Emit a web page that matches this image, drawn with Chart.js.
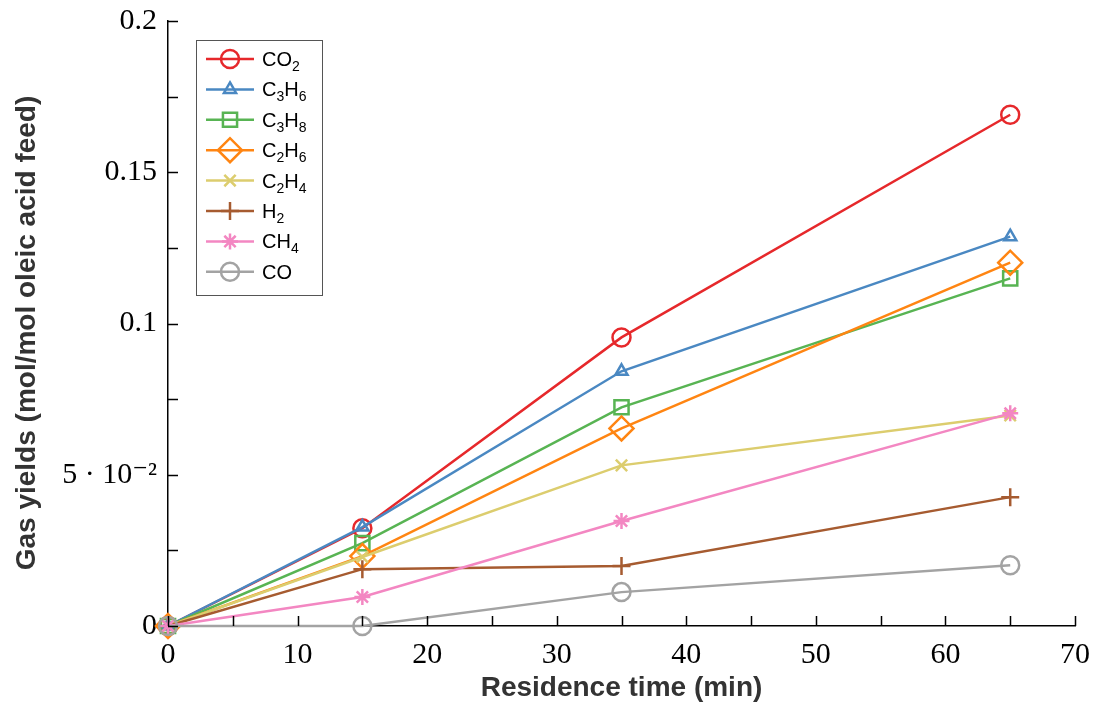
<!DOCTYPE html>
<html lang="en">
<head>
  <meta charset="UTF-8" />
  <title>Gas yields vs residence time</title>
  <script src="https://cdn.jsdelivr.net/npm/chart.js@4"></script>
  <style>
    body {
      margin: 0;
      padding: 0;
      background: #fff;
    }
    #wrap {
      width: 1100px;
      height: 705px;
    }
  </style>
</head>
<body>
  <div id="wrap"><canvas id="gasChart"></canvas></div>

  <script>
    const times = [0, 15, 35, 65];

    const co2  = [0, 0.0323, 0.0954, 0.1690];
    const c3h6 = [0, 0.0327, 0.0842, 0.1287];
    const c3h8 = [0, 0.0274, 0.0723, 0.1149];
    const c2h6 = [0, 0.0231, 0.0653, 0.1201];
    const c2h4 = [0, 0.0228, 0.0531, 0.0696];
    const h2   = [0, 0.0188, 0.0198, 0.0426];
    const ch4  = [0, 0.0096, 0.0347, 0.0703];
    const co   = [0, 0.0000, 0.0112, 0.0201];

    const yLabels = { 0: '0', 50: '5 · 10⁻²', 100: '0.1', 150: '0.15', 200: '0.2' };

    const series = [
      { label: 'CO2',  data: co2,  color: '#e6282b', style: 'circle',   r: 9 },
      { label: 'C3H6', data: c3h6, color: '#4a88c2', style: 'triangle', r: 7 },
      { label: 'C3H8', data: c3h8, color: '#58b453', style: 'rect',     r: 10 },
      { label: 'C2H6', data: c2h6, color: '#ff8512', style: 'rectRot',  r: 12 },
      { label: 'C2H4', data: c2h4, color: '#dccd6e', style: 'crossRot', r: 8 },
      { label: 'H2',   data: h2,   color: '#a65b30', style: 'cross',    r: 9 },
      { label: 'CH4',  data: ch4,  color: '#f387c2', style: 'star',     r: 8 },
      { label: 'CO',   data: co,   color: '#a3a3a3', style: 'circle',   r: 9 }
    ];

    // inward tick marks + rotated y title
    const axisExtras = {
      id: 'axisExtras',
      afterDraw(chart) {
        const ctx = chart.ctx;
        const xs = chart.scales.x, ys = chart.scales.y;
        const area = chart.chartArea;
        ctx.save();
        ctx.strokeStyle = '#000';
        ctx.lineWidth = 1.5;
        ctx.beginPath();
        xs.ticks.forEach(t => {
          const px = Math.round(xs.getPixelForValue(t.value)) + 0.5;
          ctx.moveTo(px, area.bottom);
          ctx.lineTo(px, area.bottom - 10);
        });
        ys.ticks.forEach(t => {
          const py = Math.round(ys.getPixelForValue(t.value)) + 0.5;
          ctx.moveTo(area.left, py);
          ctx.lineTo(area.left + 10, py);
        });
        ctx.stroke();

        ctx.translate(27, 333);
        ctx.rotate(-Math.PI / 2);
        ctx.fillStyle = '#333';
        ctx.font = 'bold 28px "Liberation Sans", Arial, sans-serif';
        ctx.textAlign = 'center';
        ctx.textBaseline = 'middle';
        ctx.fillText('Gas yields (mol/mol oleic acid feed)', 0, 0);
        ctx.restore();
      }
    };

    // boxed legend with line + marker and subscripted formulas
    const boxLegend = {
      id: 'boxLegend',
      afterDraw(chart) {
        const ctx = chart.ctx;
        const bx = 196, by = 40, bw = 126, bh = 255;
        ctx.save();
        ctx.fillStyle = '#fff';
        ctx.fillRect(bx, by, bw, bh);
        ctx.strokeStyle = '#555';
        ctx.lineWidth = 1;
        ctx.strokeRect(bx + 0.5, by + 0.5, bw, bh);

        chart.data.datasets.forEach((ds, i) => {
          const y = 59 + i * 30.4;
          ctx.strokeStyle = ds.borderColor;
          ctx.lineWidth = 2.5;
          ctx.beginPath();
          ctx.moveTo(206, y);
          ctx.lineTo(254, y);
          ctx.stroke();
          ctx.fillStyle = 'rgba(0,0,0,0)';
          Chart.helpers.drawPoint(ctx, {
            pointStyle: ds.pointStyle,
            radius: ds.pointRadius,
            borderWidth: 2.5,
            rotation: 0
          }, 230, y);

          // formula text, digits as subscripts
          let x = 262;
          ctx.fillStyle = '#000';
          ctx.textBaseline = 'alphabetic';
          for (const ch of ds.label) {
            if (/[0-9]/.test(ch)) {
              ctx.font = '14px "Liberation Sans", Arial, sans-serif';
              ctx.fillText(ch, x, y + 12);
            } else {
              ctx.font = '20px "Liberation Sans", Arial, sans-serif';
              ctx.fillText(ch, x, y + 7);
            }
            x += ctx.measureText(ch).width;
          }
        });
        ctx.restore();
      }
    };

    const datasets = series.map((s, i) => ({
      label: s.label,
      data: times.map((t, k) => ({ x: t, y: s.data[k] })),
      borderColor: s.color,
      backgroundColor: s.color,
      borderWidth: 2.5,
      pointStyle: s.style,
      pointRadius: s.r,
      pointHoverRadius: s.r,
      pointBorderWidth: 2.5,
      pointBackgroundColor: 'rgba(0,0,0,0)',
      pointBorderColor: s.color,
      tension: 0,
      clip: false,
      order: series.length - i
    }));

    new Chart(document.getElementById('gasChart'), {
      type: 'line',
      data: { datasets },
      plugins: [axisExtras, boxLegend],
      options: {
        responsive: true,
        maintainAspectRatio: false,
        animation: false,
        layout: { padding: { top: 18, right: 25, left: 0, bottom: 0 } },
        plugins: {
          legend: { display: false },
          tooltip: { enabled: false }
        },
        scales: {
          x: {
            type: 'linear',
            min: 0,
            max: 70,
            grid: { display: false },
            border: { display: true, color: '#000', width: 1.5 },
            afterFit: s => { s.height = 79; },
            ticks: {
              stepSize: 5,
              padding: 3,
              color: '#000',
              font: { family: '"Liberation Serif", "DejaVu Serif", serif', size: 30 },
              maxRotation: 0,
              autoSkip: false,
              callback: v => (v % 10 === 0 ? String(v) : '')
            },
            title: {
              display: true,
              text: 'Residence time (min)',
              color: '#333',
              font: { family: '"Liberation Sans", Arial, sans-serif', size: 28, weight: 'bold' },
              padding: { top: 0, bottom: 0 }
            }
          },
          y: {
            type: 'linear',
            min: 0,
            max: 0.2,
            grid: { display: false },
            border: { display: true, color: '#000', width: 1.5 },
            afterFit: s => { s.width = 168; },
            ticks: {
              stepSize: 0.025,
              padding: 3,
              color: '#000',
              font: { family: '"Liberation Serif", "DejaVu Serif", serif', size: 30 },
              autoSkip: false,
              callback: v => {
                const k = Math.round(v * 1000);
                return yLabels[k] !== undefined ? yLabels[k] : '';
              }
            }
          }
        }
      }
    });
  </script>
</body>
</html>
